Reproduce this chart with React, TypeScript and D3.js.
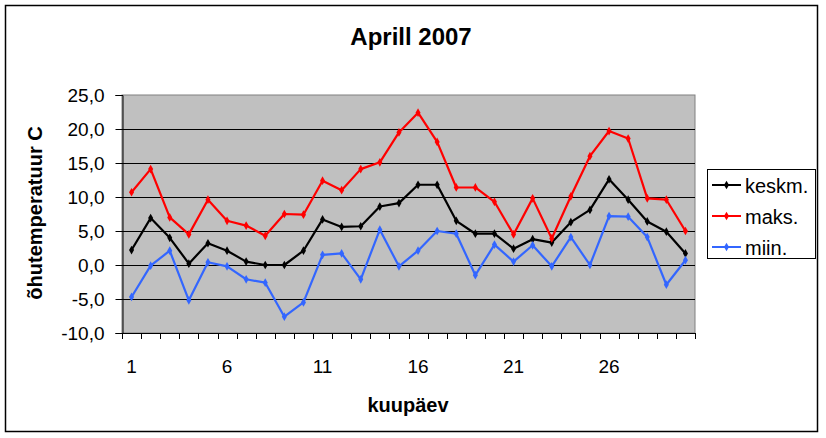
import React, { useEffect, useRef } from 'react';
import * as d3 from 'd3';

// Daily air temperatures, April 2007
const days = d3.range(1, 31).map(String);
const dayLabels = ['1', '6', '11', '16', '21', '26'];
const yTicks = [-10, -5, 0, 5, 10, 15, 20, 25];

const keskm = [2.2, 6.9, 4.0, 0.2, 3.2, 2.1, 0.5, 0.0, 0.0, 2.1, 6.7, 5.6, 5.7, 8.6, 9.1, 11.8, 11.8, 6.5, 4.6, 4.6, 2.4, 3.8, 3.3, 6.3, 8.1, 12.6, 9.6, 6.4, 4.9, 1.7];
const maks = [10.7, 14.1, 7.0, 4.5, 9.6, 6.5, 5.8, 4.3, 7.5, 7.4, 12.4, 11.0, 14.1, 15.1, 19.5, 22.4, 18.1, 11.4, 11.4, 9.3, 4.5, 9.8, 3.9, 10.1, 16.0, 19.7, 18.6, 9.8, 9.6, 5.0];
const miin = [-4.7, -0.1, 2.1, -5.2, 0.4, -0.2, -2.1, -2.6, -7.6, -5.5, 1.5, 1.7, -2.1, 5.2, -0.2, 2.1, 5.0, 4.6, -1.5, 3.0, 0.5, 2.9, -0.2, 4.1, 0.0, 7.2, 7.1, 4.1, -2.9, 0.7];

const seriesNames = ['keskm.', 'maks.', 'miin.'];
const seriesColors = ['#000000', '#ff0000', '#3366ff'];

const App: React.FC = () => {
  const svgRef = useRef<SVGSVGElement>(null);

  useEffect(() => {
    if (!svgRef.current) return;
    const svg = d3.select(svgRef.current);
    svg.selectAll('*').remove();

    const font = 'Liberation Sans, Arial, sans-serif';
    const plot = { left: 122, right: 695, top: 95, bottom: 333 };

    // outer chart border
    svg.append('rect')
      .attr('x', 5.5).attr('y', 5.5)
      .attr('width', 812).attr('height', 426)
      .attr('fill', 'white')
      .attr('stroke', 'black')
      .attr('stroke-width', 1.5);

    const x = d3.scaleBand<string>().domain(days).range([plot.left, plot.right]);
    const y = d3.scaleLinear().domain([-10, 25]).range([plot.bottom, plot.top]);
    const cx = (d: string) => x(d)! + x.bandwidth() / 2;

    // plot area
    svg.append('rect')
      .attr('x', plot.left).attr('y', plot.top)
      .attr('width', plot.right - plot.left)
      .attr('height', plot.bottom - plot.top)
      .attr('fill', '#c0c0c0')
      .attr('stroke', '#808080')
      .attr('stroke-width', 1);

    // gridlines
    svg.append('g')
      .selectAll('line')
      .data(yTicks.filter(t => t > -10 && t < 25))
      .enter()
      .append('line')
      .attr('x1', plot.left).attr('x2', plot.right)
      .attr('y1', d => Math.round(y(d)) + 0.5)
      .attr('y2', d => Math.round(y(d)) + 0.5)
      .attr('stroke', 'black');

    // y axis
    const yAxis = svg.append('g')
      .attr('transform', `translate(${plot.left + 0.5}, 0)`)
      .call(d3.axisLeft(y)
        .tickValues(yTicks)
        .tickSize(7)
        .tickPadding(11)
        .tickFormat(d => (d as number).toFixed(1).replace('.', ',')));
    yAxis.select('.domain').attr('stroke', 'black');
    yAxis.selectAll('text')
      .style('font-family', font)
      .style('font-size', '19px')
      .attr('fill', 'black');

    // x axis line and ticks at category boundaries
    const xg = svg.append('g');
    xg.append('line')
      .attr('x1', plot.left).attr('x2', plot.right)
      .attr('y1', plot.bottom + 0.5).attr('y2', plot.bottom + 0.5)
      .attr('stroke', 'black');
    xg.selectAll('.tick')
      .data([...days.map(d => x(d)!), plot.right])
      .enter()
      .append('line')
      .attr('x1', d => Math.round(d) + 0.5).attr('x2', d => Math.round(d) + 0.5)
      .attr('y1', plot.bottom).attr('y2', plot.bottom + 6)
      .attr('stroke', 'black');
    xg.selectAll('.lbl')
      .data(dayLabels)
      .enter()
      .append('text')
      .attr('x', d => cx(d))
      .attr('y', 373)
      .attr('text-anchor', 'middle')
      .style('font-family', font)
      .style('font-size', '19px')
      .text(d => d);

    // series lines and markers
    const allSeries = [keskm, maks, miin];
    const line = d3.line<number>()
      .x((_, i) => cx(days[i]))
      .y(d => y(d));

    allSeries.forEach((vals, si) => {
      const color = seriesColors[si];
      svg.append('path')
        .datum(vals)
        .attr('d', line)
        .attr('fill', 'none')
        .attr('stroke', color)
        .attr('stroke-width', 2.2)
        .attr('stroke-linejoin', 'round');
      svg.append('g')
        .selectAll('path')
        .data(vals)
        .enter()
        .append('path')
        .attr('d', d3.symbol().type(d3.symbolDiamond).size(22))
        .attr('transform', (d, i) => `translate(${cx(days[i])}, ${y(d)})`)
        .attr('fill', color);
    });

    // title
    svg.append('text')
      .attr('x', 411).attr('y', 45)
      .attr('text-anchor', 'middle')
      .style('font-family', font)
      .style('font-size', '24px')
      .style('font-weight', 'bold')
      .text('Aprill 2007');

    // axis titles
    svg.append('text')
      .attr('x', 408).attr('y', 412)
      .attr('text-anchor', 'middle')
      .style('font-family', font)
      .style('font-size', '20px')
      .style('font-weight', 'bold')
      .text('kuupäev');

    svg.append('text')
      .attr('transform', 'translate(42, 213) rotate(-90)')
      .attr('text-anchor', 'middle')
      .style('font-family', font)
      .style('font-size', '20px')
      .style('font-weight', 'bold')
      .text('õhutemperatuur C');

    // legend
    const lg = svg.append('g');
    lg.append('rect')
      .attr('x', 707.5).attr('y', 169.5)
      .attr('width', 108).attr('height', 89)
      .attr('fill', 'white')
      .attr('stroke', 'black');
    seriesNames.forEach((name, i) => {
      const ly = 185 + i * 31;
      lg.append('line')
        .attr('x1', 712).attr('x2', 741)
        .attr('y1', ly).attr('y2', ly)
        .attr('stroke', seriesColors[i])
        .attr('stroke-width', 2);
      lg.append('path')
        .attr('d', d3.symbol().type(d3.symbolDiamond).size(22))
        .attr('transform', `translate(726.5, ${ly})`)
        .attr('fill', seriesColors[i]);
      lg.append('text')
        .attr('x', 745).attr('y', ly + 7.5)
        .style('font-family', font)
        .style('font-size', '20px')
        .text(name);
    });
  }, []);

  return (
    <svg
      ref={svgRef}
      width={826}
      height={438}
      style={{ position: 'absolute', left: 0, top: 0, background: 'white' }}
    />
  );
};

export default App;
